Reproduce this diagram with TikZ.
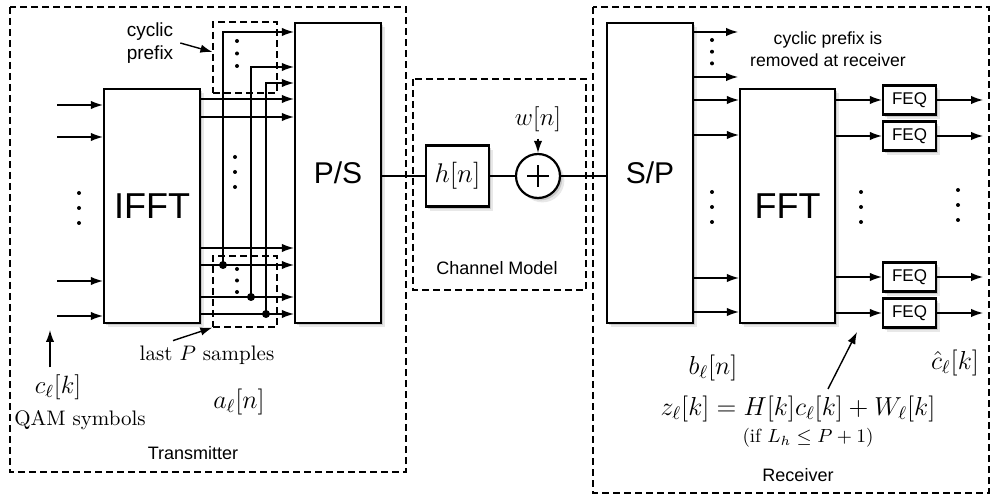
\RequirePackage{fix-cm}
\documentclass[tikz,border=0pt]{standalone}
\usepackage{amsmath,amssymb}
\usepackage{fontspec}
\setsansfont{Liberation Sans}
\usetikzlibrary{arrows.meta,shadows}

% three dots in a column: x, top y, spacing
\newcommand{\dotcol}[3]{\foreach \d in {0,1,2} \fill (#1,#2+\d*#3) circle (1pt);}

\begin{document}
\begin{tikzpicture}[x=0.5pt,y=-0.5pt,
    blk/.style={draw,line width=1.1pt,fill=white,inner sep=0pt,
      drop shadow={shadow xshift=2.2pt,shadow yshift=-2.2pt,opacity=0.18},
      drop shadow={shadow xshift=1.2pt,shadow yshift=-1.2pt,opacity=0.3}},
    grp/.style={draw,dash pattern=on 3.5pt off 2pt,line width=0.6pt,inner sep=0pt},
    sig/.style={line width=0.7pt,-{Latex[length=6pt,width=4.2pt]}},
    wire/.style={line width=0.7pt},
    lbl/.style={font=\sffamily\fontsize{9}{11}\selectfont},
    mth/.style={font=\fontsize{13}{14}\selectfont},
  ]
  \useasboundingbox (0,0) rectangle (991,497);

  % dashed frames
  \draw[grp] (10,7) rectangle (406,472);   % transmitter
  \draw[grp] (413,79) rectangle (586,290); % channel
  \draw[grp] (593,7) rectangle (989,493);  % receiver

  % ---------------- transmitter ----------------
  \node[blk,minimum width=48pt,minimum height=117pt,
        font=\sffamily\fontsize{18}{18}\selectfont] (ifft) at (152,206) {IFFT};
  \node[blk,minimum width=43pt,minimum height=150pt,
        font=\sffamily\fontsize{15}{15}\selectfont] (ps) at (338,173) {P/S};
  \node[grp,minimum width=32pt,minimum height=35.5pt] (cpbox) at (245,57.5) {};
  \node[grp,minimum width=32pt,minimum height=35.5pt] (lpbox) at (245,291.5) {};

  % QAM inputs
  \foreach \y in {105,137,281,316}
    \draw[sig] (57,\y) -- (ifft.west |- 0,\y);
  \dotcol{79}{193}{15}

  % IFFT outputs
  \foreach \y in {99,117,248,265,297,314}
    \draw[sig] (ifft.east |- 0,\y) -- (ps.west |- 0,\y);
  \dotcol{235}{157}{15}

  % copies of the last samples = cyclic prefix
  \foreach \x/\ya/\yb in {223/32/265,251/67/297,266/83/314}{
    \draw[sig] (\x,\yb) -- (\x,\ya) -- (ps.west |- 0,\ya);
    \fill (\x,\yb) circle (2pt);
  }
  \dotcol{237}{41}{12.5}
  \dotcol{237}{269}{11.5}

  \node[lbl,align=center,font=\sffamily\fontsize{9.5}{11.5}\selectfont] (cp) at (150,43) {cyclic\\prefix};
  \draw[sig] (cp.east) -- ([yshift=2.75pt]cpbox.west);
  \node[font=\fontsize{10.5}{12}\selectfont] (lp) at (207,355) {last $P$ samples};
  \draw[sig] ([xshift=-17pt,yshift=-1pt]lp.north) -- (lpbox.south west);

  \node[font=\fontsize{12.5}{14}\selectfont] (c) at (58,387) {$c_\ell[k]$};
  \coordinate (cin) at (50,330);
  \draw[sig] (c.north -| cin) -- (cin);
  \node[font=\fontsize{10.5}{12}\selectfont] (qam) at (80,420) {QAM symbols};
  \node[mth] (a) at (239,402) {$a_\ell[n]$};
  \node[lbl] (tx) at (193,453) {Transmitter};

  % ---------------- channel ----------------
  \node[blk,minimum width=31.5pt,minimum height=30.5pt,
        font=\fontsize{13.5}{14}\selectfont] (h) at (457.5,176) {$h[n]$};
  \node[blk,circle,minimum size=22pt] (sum) at (538,176) {};
  \draw[line width=0.6pt] ([xshift=-5.5pt]sum.center) -- ([xshift=5.5pt]sum.center)
                          ([yshift=-5.5pt]sum.center) -- ([yshift=5.5pt]sum.center);
  \node[font=\fontsize{12.5}{14}\selectfont] (w) at (538,119) {$w[n]$};
  \draw[sig] (w.south) -- (sum.north);
  \node[lbl] (chm) at (497,268) {Channel Model};

  % ---------------- receiver ----------------
  \node[blk,minimum width=43pt,minimum height=150pt,
        font=\sffamily\fontsize{15}{15}\selectfont] (sp) at (650,173) {S/P};
  \node[blk,minimum width=47.5pt,minimum height=117pt,
        font=\sffamily\fontsize{18}{18}\selectfont] (fft) at (787.5,206) {FFT};

  \draw[wire] (ps.east |- h.west) -- (h.west);
  \draw[wire] (h.east) -- (sum.west);
  \draw[wire] (sum.east) -- (sp.west |- sum.east);

  % removed prefix
  \foreach \y in {32,77}
    \draw[sig] (sp.east |- 0,\y) -- ++(44,0);
  \dotcol{712}{40}{11.7}
  \foreach \y in {100,135,278,312}
    \draw[sig] (sp.east |- 0,\y) -- (fft.west |- 0,\y);
  \dotcol{712}{192}{15}

  % equalizers
  \foreach \y [count=\i] in {100,136,277,313}{
    \node[blk,minimum width=26.5pt,minimum height=14.5pt,
          font=\sffamily\fontsize{8.5}{9}\selectfont] (feq\i) at (909.5,\y) {FEQ};
    \draw[sig] (fft.east |- feq\i.west) -- (feq\i.west);
    \draw[sig] (feq\i.east) -- ++(46,0);
  }
  \dotcol{861}{192}{15}
  \dotcol{958}{190}{15}

  \node[lbl,align=center,font=\sffamily\fontsize{8.8}{11}\selectfont] (rm) at (828,49)
    {cyclic prefix is\\removed at receiver};
  \node[mth] (b) at (713,368) {$b_\ell[n]$};
  \node[font=\fontsize{13}{14}\selectfont] (chat) at (955,363) {$\hat{c}_\ell[k]$};
  \node[mth] (z) at (798,409) {$z_\ell[k] = H[k]c_\ell[k] + W_\ell[k]$};
  \node[font=\fontsize{9.5}{11}\selectfont] (cond) at (808,438) {(if $L_h \leq P+1$)};
  \coordinate (ztip) at (857,332);
  \draw[sig] ([xshift=15pt]z.north) -- (ztip);
  \node[lbl] (rx) at (798,475) {Receiver};
\end{tikzpicture}
\end{document}
